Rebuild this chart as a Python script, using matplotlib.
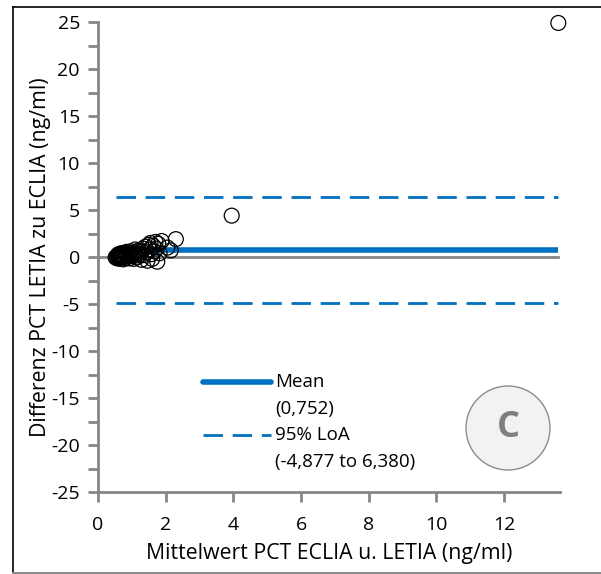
import matplotlib.pyplot as plt
from matplotlib.lines import Line2D
from matplotlib.patches import Circle
import numpy as np

# Bland-Altman data: mean of both methods vs. difference LETIA - ECLIA (ng/ml)
mean_vals = [0.52, 0.55, 0.57, 0.58, 0.60, 0.61, 0.62, 0.63, 0.65, 0.66,
             0.67, 0.68, 0.70, 0.71, 0.72, 0.74, 0.75, 0.77, 0.78, 0.80,
             0.82, 0.84, 0.85, 0.88, 0.90, 0.92, 0.95, 0.97, 1.00, 1.02,
             1.05, 1.08, 1.10, 1.12, 1.15, 1.18, 1.20, 1.24, 1.28, 1.30,
             1.33, 1.36, 1.40, 1.43, 1.46, 1.50, 1.52, 1.55, 1.58, 1.60,
             1.63, 1.66, 1.70, 1.72, 1.75, 1.78, 1.82, 1.88, 2.05, 2.15,
             2.30, 3.95, 13.60]
diff_vals = [-0.05, 0.05, -0.15, 0.20, 0.00, 0.30, -0.10, 0.10, 0.25, -0.20,
             0.05, 0.40, -0.05, 0.15, 0.35, 0.00, -0.25, 0.20, 0.45, 0.10,
             -0.10, 0.30, 0.55, 0.05, 0.20, -0.15, 0.40, 0.60, 0.10, 0.30,
             -0.20, 0.50, 0.80, 0.15, -0.05, 0.40, 0.70, 0.25, -0.30, 0.60,
             0.90, 0.20, 1.10, 0.50, -0.40, 1.30, 0.80, 1.50, 0.30, -0.20,
             1.20, 0.60, 1.60, 0.90, -0.50, 1.40, 0.40, 1.70, 1.00, 0.70,
             1.90, 4.40, 24.90]

bias = 0.752
loa_low = -4.877
loa_high = 6.380

blue = '#0070c0'
grey = '#868686'
plt.rcParams['font.family'] = ['Open Sans', 'DejaVu Sans']
plt.rcParams['axes.unicode_minus'] = False

fig = plt.figure(figsize=(6.01, 5.74), dpi=100)
ax = fig.add_axes([98/601, 82/574, (560-98)/601, (492-22)/574])

x0, x1 = min(mean_vals), max(mean_vals)
ax.plot([0, x1], [0, 0], color=grey, lw=2, zorder=1)
ax.plot([x0, x1], [bias, bias], color=blue, lw=4, solid_capstyle='butt', zorder=2)
for lim in (loa_low, loa_high):
    ax.plot([x0, x1], [lim, lim], color=blue, lw=2, dashes=(7, 3.5), zorder=2)

ax.scatter(mean_vals, diff_vals, s=115, facecolors='none', edgecolors='black',
           linewidths=0.9, zorder=3, clip_on=False)

ax.set_xlim(0, 13.65)
ax.set_ylim(-25, 25)
ax.set_xticks(np.arange(0, 13, 2))
ax.set_yticks(np.arange(-25, 26, 5))
ax.set_yticks(np.arange(-22.5, 25, 5), minor=True)
ax.tick_params(axis='both', which='both', color=grey, width=2, labelsize=14)
ax.tick_params(axis='both', which='major', length=7)
ax.tick_params(axis='x', which='major', pad=10)
ax.tick_params(axis='y', which='major', pad=6)
ax.tick_params(axis='y', which='minor', length=7)
for side in ('top', 'right'):
    ax.spines[side].set_visible(False)
for side in ('left', 'bottom'):
    ax.spines[side].set_color(grey)
    ax.spines[side].set_linewidth(2)

ax.set_xlabel('Mittelwert PCT ECLIA u. LETIA (ng/ml)', fontsize=15.3, labelpad=7)
ax.set_ylabel('Differenz PCT LETIA zu ECLIA (ng/ml)', fontsize=15.3, labelpad=0)

# Legend drawn by hand in axes coordinates
ax.add_line(Line2D([0.227, 0.374], [0.233, 0.233], transform=ax.transAxes,
                   color=blue, lw=4, solid_capstyle='round'))
ax.add_line(Line2D([0.227, 0.374], [0.1205, 0.1205], transform=ax.transAxes,
                   color=blue, lw=2, dashes=(7, 3.5)))
leg_kw = dict(transform=ax.transAxes, fontsize=13.5, va='center', ha='left')
ax.text(0.384, 0.233, 'Mean', **leg_kw)
ax.text(0.384, 0.177, '(0,752)', **leg_kw)
ax.text(0.384, 0.1205, '95% LoA', **leg_kw)
ax.text(0.384, 0.064, '(-4,877 to 6,380)', **leg_kw)

# Panel badge (inch coordinates keep it round)
fig.add_artist(Circle((5.08, (574 - 428) / 100), 0.42, transform=fig.dpi_scale_trans,
                      facecolor='#f2f2f2', edgecolor='#8c8c8c', lw=1))
fig.text(508/601, 1 - 428/574, 'C', fontsize=26, fontweight='bold',
         color='#7f7f7f', ha='center', va='center')

# Outer frame
fig.add_artist(Line2D([13/601, 13/601], [1 - 573/574, 1 - 7/574], color='black', lw=1.2))
fig.add_artist(Line2D([13/601, 1], [1 - 7/574, 1 - 7/574], color='black', lw=1.2))
fig.add_artist(Line2D([13/601, 1], [1 - 573/574, 1 - 573/574], color='#8c8c8c', lw=1.5))

fig.savefig('out.png', dpi=100)
